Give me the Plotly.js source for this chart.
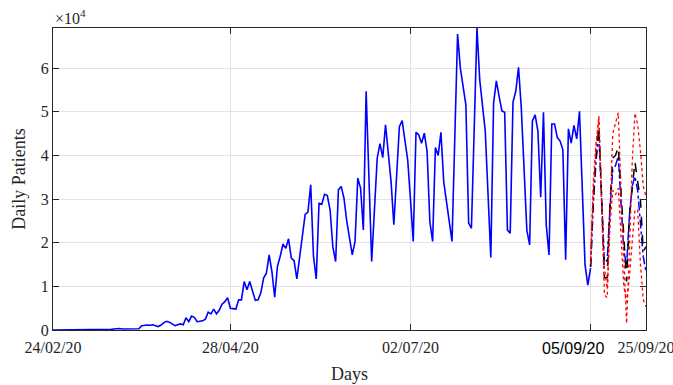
<!DOCTYPE html>
<html>
<head>
<meta charset="utf-8">
<script src="https://cdn.plot.ly/plotly-3.0.1.min.js"></script>
<style>html,body{margin:0;padding:0;background:#fff;}#chart{width:673px;height:385px;}</style>
</head>
<body>
<div id="chart"></div>
<script>
// ---- data ----
const startDate = '2020-02-24';
const dailyPatients = [
  0,0,1,0,0,0,0,0,0,0,5,5,9,0,7,18,
  30,60,80,120,90,160,220,330,350,230,230,300,350,400,320,300,
  1000,1150,1150,1100,1200,1000,800,1150,1700,2000,1800,1400,1000,1200,1400,1200,
  2800,1900,3200,2900,1900,2000,2100,2500,4100,3700,4800,3700,4500,5900,6500,7400,
  5000,4900,4800,6900,6900,11100,9200,11100,9000,6800,6900,8500,11900,13000,17200,13400,
  7500,14600,16900,19700,18700,20900,16500,15900,11700,16900,20700,26500,27000,33300,16900,11700,
  29000,28800,31100,30800,27500,19000,15700,32100,32900,30200,25000,21000,17200,20300,34800,32500,
  22900,54700,35000,15700,27500,39400,42700,39500,47000,40500,34000,24100,35000,46600,48000,44000,
  39000,30000,20300,45300,44700,42800,45100,40900,24800,20300,41800,40000,45300,34000,29000,24800,
  20300,44000,67800,60000,55600,51600,24500,23300,46000,69200,57300,51300,45500,31000,16600,52000,
  57100,53500,50200,49900,22900,22200,52200,54700,60200,50800,37000,22900,19500,47900,49300,45500,
  30400,49900,24100,17200,47200,47200,44100,43300,41300,16100,46100,42800,46900,43800,50100,32000,
  14900,10300,14200
];
const forecastStartIndex = 194;
const forecastMean = [14500,30000,40000,46600,30000,12000,12000,29000,39400,40000,42000,31000,20000,11100,26000,33000,38600,34000,29800,18000,19100];
const forecastAlt  = [14500,29000,39000,45000,30000,15500,16000,28000,36700,37700,39800,29000,18000,15000,26000,32900,35200,32000,25000,16800,13400];
const forecastUpper = [16000,32000,42000,49000,28000,8000,7400,28000,45000,47400,49800,32000,15000,1500,18000,38000,49700,47000,41000,33000,30600];
const forecastLower = [15000,34000,43000,48500,30000,14000,9500,24000,32000,31000,32500,20000,10000,6500,12000,20000,27500,27500,15000,7000,5300];

const tickDates = ['2020-02-24','2020-04-28','2020-07-02','2020-09-05','2020-09-25'];
const tickLabels = ['24/02/20','28/04/20','02/07/20','','25/09/20'];
const yTickVals = [0,10000,20000,30000,40000,50000,60000];
const yTickLabels = ['0','1','2','3','4','5','6'];

// ---- helpers ----
function dayToDate(i){
  const d = new Date(startDate + 'T00:00:00Z');
  d.setUTCDate(d.getUTCDate() + i);
  return d.toISOString().slice(0,10);
}
const actualX = dailyPatients.map((_, i) => dayToDate(i));
const fcX = forecastMean.map((_, i) => dayToDate(forecastStartIndex + i));

const serif = 'Liberation Serif, Times New Roman, serif';
const txt = '#262626';

const traces = [
  {x: actualX, y: dailyPatients, mode: 'lines', line: {color: '#0000ff', width: 1.6}},
  {x: fcX, y: forecastAlt, mode: 'lines', line: {color: '#0000ff', width: 1.5, dash: 'dashdot'}},
  {x: fcX, y: forecastMean, mode: 'lines', line: {color: '#000000', width: 1.5, dash: 'dash'}},
  {x: fcX, y: forecastUpper, mode: 'lines', line: {color: '#ff0000', width: 1.3, dash: 'dot'}},
  {x: fcX, y: forecastLower, mode: 'lines', line: {color: '#ff0000', width: 1.3, dash: 'dot'}}
];

const axisCommon = {
  showline: true, linecolor: txt, linewidth: 1, mirror: 'ticks',
  ticks: 'inside', ticklen: 6, tickcolor: txt, tickwidth: 1,
  showgrid: true, gridcolor: '#e2e2e2', gridwidth: 1, zeroline: false,
  tickfont: {family: serif, size: 16, color: txt}
};

const layout = {
  width: 673, height: 385,
  margin: {l: 53, r: 27, t: 28, b: 55},
  paper_bgcolor: '#ffffff', plot_bgcolor: '#ffffff',
  showlegend: false, hovermode: false,
  xaxis: Object.assign({}, axisCommon, {
    type: 'date', range: ['2020-02-24', '2020-09-25'],
    tickmode: 'array', tickvals: tickDates, ticktext: tickLabels,
    ticklabeloverflow: 'allow', ticklabelstandoff: 3,
    title: {text: 'Days', font: {family: serif, size: 18, color: txt}, standoff: 12}
  }),
  yaxis: Object.assign({}, axisCommon, {
    range: [0, 69200],
    tickmode: 'array', tickvals: yTickVals, ticktext: yTickLabels,
    title: {text: 'Daily Patients', font: {family: serif, size: 18, color: txt}, standoff: 10}
  }),
  annotations: [
    {xref: 'paper', yref: 'paper', x: 0, y: 1, xanchor: 'left', yanchor: 'bottom',
     text: '×10<sup>4</sup>', showarrow: false, font: {family: serif, size: 16, color: txt}, yshift: -1},
    {xref: 'x', yref: 'paper', x: tickDates[3], y: 0, xanchor: 'center', yanchor: 'top',
     text: '05/09/20', showarrow: false, xshift: -18, yshift: -8,
     font: {family: 'Liberation Sans, Arial, sans-serif', size: 16, color: '#000000'}}
  ]
};

Plotly.newPlot('chart', traces, layout, {staticPlot: true, displayModeBar: false});
</script>
</body>
</html>
